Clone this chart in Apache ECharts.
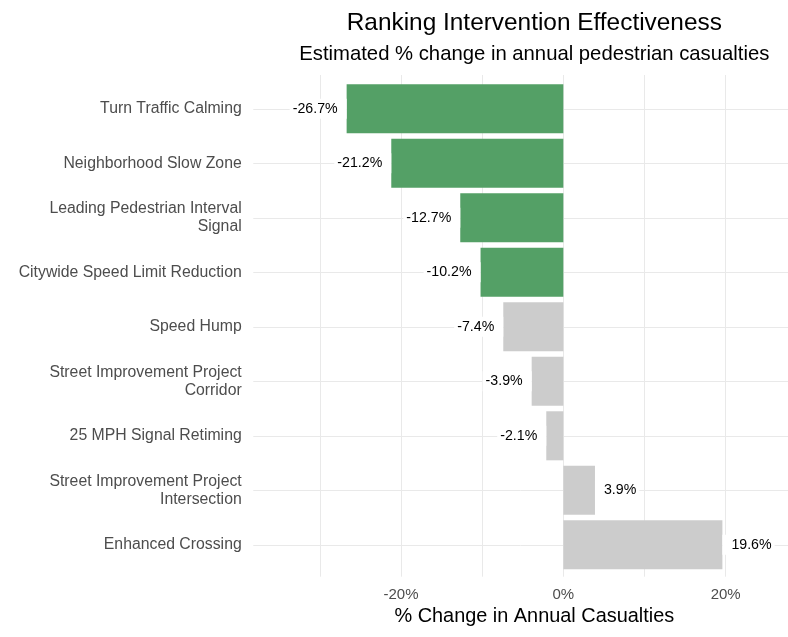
<!DOCTYPE html>
<html>
<head>
<meta charset="utf-8">
<script src="https://cdn.jsdelivr.net/npm/echarts@6/dist/echarts.min.js"></script>
<style>
html,body{margin:0;padding:0;background:#fff;}
#chart{width:788px;height:637px;}
</style>
</head>
<body>
<div id="chart"></div>
<script>
// ---- data ----
const categories = [
  'Turn Traffic Calming',
  'Neighborhood Slow Zone',
  'Leading Pedestrian Interval\nSignal',
  'Citywide Speed Limit Reduction',
  'Speed Hump',
  'Street Improvement Project\nCorridor',
  '25 MPH Signal Retiming',
  'Street Improvement Project\nIntersection',
  'Enhanced Crossing'
];
const pctChange = [-26.7, -21.2, -12.7, -10.2, -7.4, -3.9, -2.1, 3.9, 19.6];
const significant = [true, true, true, true, false, false, false, false, false];
const xTickLabels = [-20, 0, 20];

const titleText = 'Ranking Intervention Effectiveness';
const subtitleText = 'Estimated % change in annual pedestrian casualties';
const xAxisTitle = '% Change in Annual Casualties';

// ---- style ----
const FONT = "'Liberation Sans', Arial, Helvetica, sans-serif";
const GREEN = '#54a066';
const GRAY = '#cccccc';
const GRID = '#e9e9e9';
const CLEAR = 'rgba(0,0,0,0)';
const X_MIN = -40, X_MAX = 30;   // axis scale (the -40 line is hidden)

const chart = echarts.init(document.getElementById('chart'), null, {renderer: 'canvas'});

// vertical grid line colours (hide the line at X_MIN)
const vColors = [];
for (let v = X_MIN; v <= X_MAX; v += 10) vColors.push(v === X_MIN ? CLEAR : GRID);
// horizontal grid lines at category centres (positions 1..n, hide 0 and n+1)
const hColors = [CLEAR].concat(categories.map(() => GRID)).concat([CLEAR]);

const option = {
  backgroundColor: '#ffffff',
  animation: false,
  textStyle: {fontFamily: FONT},
  grid: [
    // vertical grid lines + x tick labels
    {left: 238.7, right: -18.8, top: 75, bottom: 60.3, containLabel: false, outerBoundsMode: 'none'},
    // bars
    {left: 238.7, right: -18.8, top: 81.55, bottom: 64.95, containLabel: false, outerBoundsMode: 'none'},
    // horizontal grid lines
    {left: 253.3, right: 0, top: 54.3, bottom: 37.7, containLabel: false, outerBoundsMode: 'none'}
  ],
  xAxis: [
    {
      type: 'value', gridIndex: 0, min: X_MIN, max: X_MAX, interval: 10,
      axisLine: {show: false}, axisTick: {show: false},
      splitLine: {show: true, lineStyle: {color: vColors, width: 1}},
      axisLabel: {
        show: true, margin: 11, fontSize: 15, color: '#4d4d4d', fontFamily: FONT,
        formatter: v => xTickLabels.indexOf(v) >= 0 ? v + '%' : ''
      }
    },
    {type: 'value', gridIndex: 1, min: X_MIN, max: X_MAX, interval: 10, show: false, splitLine: {show: false}},
    {type: 'value', gridIndex: 2, min: 0, max: 1, show: false, splitLine: {show: false}}
  ],
  yAxis: [
    {type: 'value', gridIndex: 0, min: 0, max: 1, show: false, splitLine: {show: false}},
    {
      type: 'category', gridIndex: 1, data: categories, inverse: true,
      axisLine: {show: false}, axisTick: {show: false}, splitLine: {show: false},
      axisLabel: {margin: -3, fontSize: 15.8, lineHeight: 18, color: '#4d4d4d', fontFamily: FONT,
        align: 'right', padding: [6, 0, 0, 0]}
    },
    {
      type: 'value', gridIndex: 2, min: 0, max: categories.length + 1, interval: 1, inverse: true,
      axisLine: {show: false}, axisTick: {show: false}, axisLabel: {show: false},
      splitLine: {show: true, lineStyle: {color: hColors, width: 1}}
    }
  ],
  series: [
    {
      type: 'bar', xAxisIndex: 1, yAxisIndex: 1, z: 2,
      barWidth: '90%',
      data: pctChange.map((v, i) => ({
        value: v,
        itemStyle: {color: significant[i] ? GREEN : GRAY},
        label: v < 0
          ? {position: 'left', padding: [5, 9, 1, 3]}
          : {position: 'right', padding: [5, 3, 1, 9]}
      })),
      label: {
        show: true, distance: 0, fontSize: 14.2, color: '#000000', fontFamily: FONT,
        backgroundColor: '#ffffff',
        formatter: p => p.value.toFixed(1) + '%'
      }
    }
  ],
  graphic: [
    {type: 'text', x: 534.3, y: 23, style: {text: titleText, fontSize: 24.4, fontFamily: FONT, fill: '#000',
      textAlign: 'center', textVerticalAlign: 'middle', align: 'center', verticalAlign: 'middle'}},
    {type: 'text', x: 534.3, y: 54.7, style: {text: subtitleText, fontSize: 20.3, fontFamily: FONT, fill: '#000',
      textAlign: 'center', textVerticalAlign: 'middle', align: 'center', verticalAlign: 'middle'}},
    {type: 'text', x: 534.3, y: 616.8, style: {text: xAxisTitle, fontSize: 19.9, fontFamily: FONT, fill: '#000',
      textAlign: 'center', textVerticalAlign: 'middle', align: 'center', verticalAlign: 'middle'}}
  ]
};
chart.setOption(option);
</script>
</body>
</html>
